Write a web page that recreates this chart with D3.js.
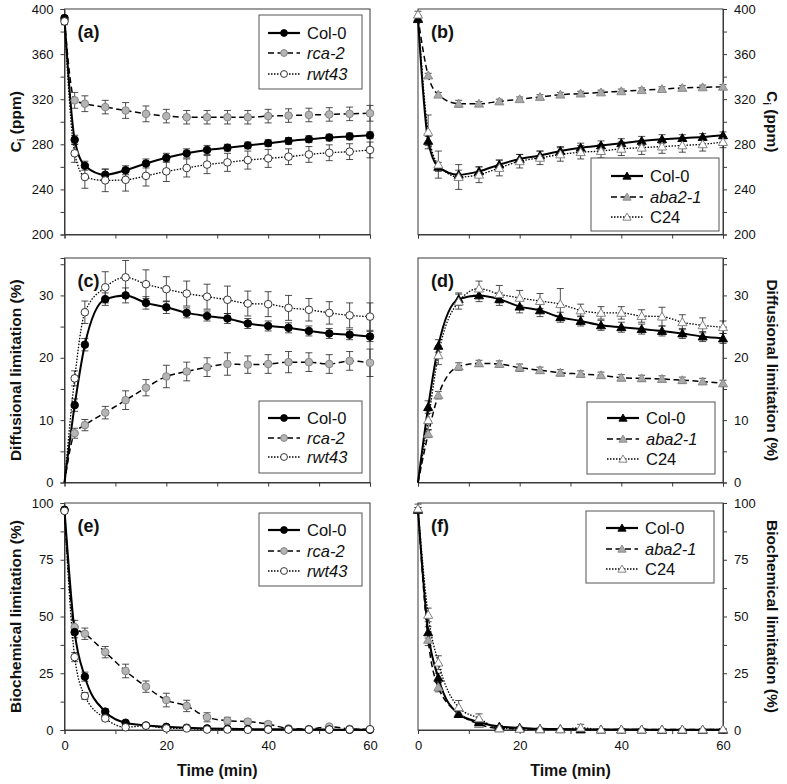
<!DOCTYPE html>
<html><head><meta charset="utf-8">
<script src="https://cdn.jsdelivr.net/npm/d3@7"></script>
<style>body{margin:0;background:#fff}svg{display:block}text{font-family:"Liberation Sans",Arial,Helvetica,sans-serif}</style>
</head><body><svg id="chart" width="787" height="784"></svg>
<script>
// ---------- data ----------
const times = [0,2,4,8,12,16,20,24,28,32,36,40,44,48,52,56,60];
const timeTickLabels = [0,20,40,60];
const ciTickLabels = [200,240,280,320,360,400];
const diffTickLabels = [0,10,20,30];
const bioTickLabels = [0,25,50,75,100];

// (a) Ci, Col-0 / rca-2 / rwt43
const a_col0 = [392,284,261,253,257,263,268,272,275,277,279,281,283,284.5,286,287,288];
const a_col0_err = [2,4,4,5,4,4,4,4,4,3,3,3,3,3,3,3,3];
const a_rca2 = [390,319,316,313,310,307,305,304,304,304,304,305,305.5,306,306.5,307,307.5];
const a_rca2_err = [3,7,7,6,7,7,6,6,6,6,6,6,6,6,6,6,7];
const a_rwt43 = [389,272,251,248,248.5,252,256,259,262,264,266,267.5,269,271,272.5,273.5,275];
const a_rwt43_err = [3,8,10,10,10,9,9,8,8,8,8,8,7,7,7,7,7];
// (b) Ci, Col-0 / aba2-1 / C24
const b_col0 = [391,283,260,253,256,262,267,270,274,277,279,281,283,284.5,285.5,286.5,288];
const b_col0_err = [2,4,4,4,4,4,4,4,4,4,4,4,4,4,3,3,3];
const b_aba = [392,341,324,316,316,318,320,322,324,325,326,327,328,329,330,330.5,331];
const b_aba_err = [2,2,2,3,2,2,2,2,2,2,2,2,2,2,2,2,2];
const b_c24 = [395,291,262,251,253,259,265,268,271,273,274,276,277,278,279,280,282];
const b_c24_err = [3,15,12,11,7,7,6,6,6,6,6,6,6,6,6,6,5];
// (c) diffusional limitation
const c_col0 = [0,12.4,22.1,29.4,30,28.8,28.1,27.2,26.7,26.3,25.5,25.1,24.8,24.3,23.9,23.7,23.4];
const c_col0_err = [0,1,1,1,1.2,1,1,0.8,0.8,0.8,0.8,0.8,0.8,0.8,0.8,0.8,0.8];
const c_rca2 = [0,7.9,9.2,11.2,13.2,15.2,17.0,17.8,18.5,19.0,18.9,19.0,19.3,19.3,19.0,19.5,19.2];
const c_rca2_err = [0,0.8,0.9,1,1.5,1.3,1.8,1.5,1.5,1.8,1.4,1.5,1.7,1.5,1.5,1.5,2.2];
const c_rwt43 = [0,16.7,27.3,31.3,32.9,31.8,31.0,30.3,29.8,29.3,28.7,28.6,28.0,27.7,27.2,26.8,26.6];
const c_rwt43_err = [0,1.2,1.8,2.5,2.7,2.3,2,2,2,2.2,2,2,2,1.8,1.8,2,2.2];
// (d) diffusional limitation
const d_col0 = [0,12.1,21.9,29.4,30,29.4,28.2,27.6,26.5,25.9,25.2,24.9,24.6,24.3,23.9,23.4,23.1];
const d_col0_err = [0,1,1,1,1,1,1,1,0.8,0.8,0.8,0.8,0.8,0.8,0.8,0.8,0.8];
const d_aba = [0,7.8,14.0,18.6,19.1,19.0,18.4,18.0,17.6,17.4,17.2,16.8,16.7,16.6,16.4,16.2,15.9];
const d_aba_err = [0,0.6,0.6,0.6,0.5,0.5,0.6,0.5,0.5,0.5,0.5,0.5,0.5,0.5,0.5,0.5,0.5];
const d_c24 = [0,10.0,20.4,29.0,31.1,30.2,29.6,29.1,28.6,27.6,27.2,27.2,26.7,26.6,25.7,25.2,24.9];
const d_c24_err = [0,1.5,1.5,1.2,1.2,1.4,1.2,1.2,2.5,1,1,1,1,1.5,1.2,1.2,1];
// (e) biochemical limitation
const e_col0 = [97,43.1,23.5,8.1,3.2,2,1.4,1,0.7,0.5,0.4,0.3,0.3,0.2,0.2,0.1,0.1];
const e_col0_err = [1,2.5,2,1.2,0.8,0.5,0.5,0.4,0.4,0.3,0.3,0.3,0.3,0.3,0.3,0.3,0.3];
const e_rca2 = [97,45.3,42.4,34.3,26,19.1,13.2,10.6,5.6,4.1,3.7,2.6,0.7,0.4,1.5,0.5,0.3];
const e_rca2_err = [1,3,2.5,2.5,3,2.5,3,2.5,2,1.5,1,1,0.7,0.5,0.5,0.5,0.5];
const e_rwt43 = [96.5,32.1,15,5.1,1.2,1.9,0.7,0.7,0.2,0.2,0.1,0.2,0.2,0.2,0.2,0.2,0.3];
const e_rwt43_err = [1,2,1.5,1,0.5,0.5,0.4,0.4,0.3,0.3,0.3,0.3,0.3,0.3,0.3,0.3,0.3];
// (f) biochemical limitation
const f_col0 = [97,43,23,7,3.5,1.5,1,0.5,0.4,0.3,0.2,0.2,0.2,0.1,0.1,0.1,0.1];
const f_col0_err = [1,2.5,2,1.5,1,0.5,0.4,0.3,0.3,0.3,0.3,0.3,0.3,0.3,0.3,0.3,0.3];
const f_aba = [97,39.7,18.8,7.4,2.6,0.7,0.5,0.3,0.3,0.2,0.2,0.2,0.2,0.2,0.2,0.2,0.2];
const f_aba_err = [1,2.5,2,1.5,1,0.5,0.4,0.3,0.3,0.3,0.3,0.3,0.3,0.3,0.3,0.3,0.3];
const f_c24 = [97.5,50.7,29.7,10,5.1,0.7,0.5,0.3,0.3,1,0.2,0.2,0.2,0.2,0.2,0.2,0.4];
const f_c24_err = [2,3,3,3,2,1,0.5,0.4,0.4,1.5,0.3,0.3,0.3,0.3,0.3,0.3,0.3];

// ---------- styles / layout ----------
const styles = {
  col0c: {shape:'circle', fill:'#000', stroke:'#000', dash:null, lw:2},
  rca2:  {shape:'circle', fill:'#b5b5b5', stroke:'#7d7d7d', dash:'6,3.5', lw:1.5},
  rwt43: {shape:'circle', fill:'#fff', stroke:'#222', dash:'1.5,1.5', lw:1.3},
  col0t: {shape:'triangle', fill:'#000', stroke:'#000', dash:null, lw:2},
  aba:   {shape:'triangle', fill:'#a9a9a9', stroke:'#858585', dash:'6,3.5', lw:1.5},
  c24:   {shape:'triangle', fill:'#fff', stroke:'#777', dash:'1.5,1.5', lw:1.3}
};
const cols = [[64.5,370],[418,723]];
const rows = [
  {y0:234.5, y1:9,   dom:[200,400], minor:20,   labels:ciTickLabels},
  {y0:482.5, y1:258, dom:[0,36],    minor:5,    labels:diffTickLabels},
  {y0:730,   y1:503, dom:[0,100],   minor:12.5, labels:bioTickLabels}
];
const rowTitles = ['Ci', 'Diffusional limitation (%)', 'Biochemical limitation (%)'];
const leftNames = ['Col-0','rca-2','rwt43'];
const rightNames = ['Col-0','aba2-1','C24'];

const panels = [
  {lab:'(a)', col:0, row:0, names:leftNames, st:['col0c','rca2','rwt43'], vals:[a_col0,a_rca2,a_rwt43], errs:[a_col0_err,a_rca2_err,a_rwt43_err], leg:{x:259,y:15,w:103,h:74,rows:[33,53,74]}},
  {lab:'(b)', col:1, row:0, names:rightNames, st:['col0t','aba','c24'], vals:[b_col0,b_aba,b_c24], errs:[b_col0_err,b_aba_err,b_c24_err], leg:{x:591,y:158,w:128,h:73,rows:[176,197,217]}},
  {lab:'(c)', col:0, row:1, names:leftNames, st:['col0c','rca2','rwt43'], vals:[c_col0,c_rca2,c_rwt43], errs:[c_col0_err,c_rca2_err,c_rwt43_err], leg:{x:259,y:401,w:103,h:72,rows:[418,438,457]}},
  {lab:'(d)', col:1, row:1, names:rightNames, st:['col0t','aba','c24'], vals:[d_col0,d_aba,d_c24], errs:[d_col0_err,d_aba_err,d_c24_err], leg:{x:587,y:402,w:128,h:72,rows:[418,439,459]}},
  {lab:'(e)', col:0, row:2, names:leftNames, st:['col0c','rca2','rwt43'], vals:[e_col0,e_rca2,e_rwt43], errs:[e_col0_err,e_rca2_err,e_rwt43_err], leg:{x:259,y:513,w:103,h:73,rows:[530,551,571]}},
  {lab:'(f)', col:1, row:2, names:rightNames, st:['col0t','aba','c24'], vals:[f_col0,f_aba,f_c24], errs:[f_col0_err,f_aba_err,f_c24_err], leg:{x:586,y:511,w:128,h:72,rows:[528,549,569]}}
];

const svg = d3.select('#chart');
const FONT = '"Liberation Sans",Arial,Helvetica,sans-serif';

function marker(g, st, x, y, scale) {
  const s = styles[st];
  const k = scale || 1;
  if (s.shape === 'circle') {
    g.append('circle').attr('cx', x).attr('cy', y).attr('r', 3.8 * k)
      .attr('fill', s.fill).attr('stroke', s.stroke).attr('stroke-width', 0.9);
  } else {
    g.append('path').attr('d', d3.symbol(d3.symbolTriangle, 36 * k * k)())
      .attr('transform', `translate(${x},${y + 0.8})`)
      .attr('fill', s.fill).attr('stroke', s.stroke).attr('stroke-width', 0.9);
  }
}

panels.forEach(p => {
  const [xa, xb] = cols[p.col];
  const R = rows[p.row];
  const x = d3.scaleLinear().domain([0,60]).range([xa,xb]);
  const y = d3.scaleLinear().domain(R.dom).range([R.y0,R.y1]);
  const g = svg.append('g');

  // frame
  g.append('rect').attr('x', xa).attr('y', R.y1).attr('width', xb - xa).attr('height', R.y0 - R.y1)
    .attr('fill', 'none').attr('stroke', '#3a3a3a').attr('stroke-width', 1);

  // y axis
  const yTicks = d3.range(R.dom[0], R.dom[1] + 0.001, R.minor);
  const yAxis = (p.col === 0 ? d3.axisLeft(y) : d3.axisRight(y))
    .tickValues(yTicks).tickSize(4).tickPadding(7)
    .tickFormat(d => R.labels.includes(d) ? d : '');
  const ya = g.append('g').attr('transform', `translate(${p.col === 0 ? xa : xb},0)`).call(yAxis);
  ya.select('.domain').attr('stroke', '#3a3a3a');
  ya.selectAll('.tick line').attr('stroke', '#3a3a3a');
  ya.selectAll('text').attr('font-size', 13).attr('font-family', FONT).attr('fill', '#111');

  // x axis
  const xAxis = d3.axisBottom(x).tickValues(d3.range(0, 61, 10)).tickSize(4).tickPadding(7)
    .tickFormat(d => (p.row === 2 && timeTickLabels.includes(d)) ? d : '');
  const xg = g.append('g').attr('transform', `translate(0,${R.y0})`).call(xAxis);
  xg.select('.domain').attr('stroke', '#3a3a3a');
  xg.selectAll('.tick line').attr('stroke', '#3a3a3a');
  xg.selectAll('text').attr('font-size', 13).attr('font-family', FONT).attr('fill', '#111');

  // series
  const allPts = p.vals.map((vals, si) => times.map((t, i) => ({t, v: vals[i], e: p.errs[si][i]})));
  allPts.forEach(pts => {
    const eg = g.append('g').attr('stroke', '#222').attr('stroke-width', 0.8);
    pts.forEach(d => {
      if (d.e <= 0) return;
      const X = x(d.t), Y1 = y(Math.min(d.v + d.e, R.dom[1])), Y2 = y(Math.max(d.v - d.e, R.dom[0]));
      eg.append('line').attr('x1', X).attr('x2', X).attr('y1', Y1).attr('y2', Y2);
      eg.append('line').attr('x1', X - 3.5).attr('x2', X + 3.5).attr('y1', y(d.v + d.e)).attr('y2', y(d.v + d.e));
      if (d.v - d.e > R.dom[0]) eg.append('line').attr('x1', X - 3.5).attr('x2', X + 3.5).attr('y1', Y2).attr('y2', Y2);
    });
  });
  allPts.forEach((pts, si) => {
    const s = styles[p.st[si]];
    const line = d3.line().x(d => x(d.t)).y(d => y(d.v)).curve(d3.curveMonotoneX);
    g.append('path').datum(pts).attr('d', line).attr('fill', 'none')
      .attr('stroke', '#000').attr('stroke-width', s.lw)
      .attr('stroke-dasharray', s.dash).attr('stroke-linejoin', 'round');
  });
  [1, 0, 2].forEach(si => {
    allPts[si].forEach(d => {
      if (d.t === 0 && d.v === 0) return;
      marker(g, p.st[si], x(d.t), y(d.v));
    });
  });

  // panel label
  g.append('text').attr('x', xa + 13).attr('y', R.y1 + 29).text(p.lab)
    .attr('font-size', 18).attr('font-weight', 'bold').attr('font-family', FONT).attr('fill', '#111');

  // legend
  const L = p.leg;
  const lg = g.append('g');
  lg.append('rect').attr('x', L.x).attr('y', L.y).attr('width', L.w).attr('height', L.h)
    .attr('fill', '#fff').attr('stroke', '#555').attr('stroke-width', 1);
  const lx0 = L.x + (p.col === 0 ? 9 : 20), lx1 = lx0 + 32;
  p.names.forEach((nm, i) => {
    const s = styles[p.st[i]];
    const yy = L.rows[i];
    lg.append('line').attr('x1', lx0).attr('x2', lx1).attr('y1', yy).attr('y2', yy)
      .attr('stroke', '#000').attr('stroke-width', s.lw + 0.2).attr('stroke-dasharray', s.dash);
    marker(lg, p.st[i], (lx0 + lx1) / 2, yy, 0.9);
    lg.append('text').attr('x', lx1 + 7).attr('y', yy + 6).text(nm)
      .attr('font-size', 16.5).attr('font-family', FONT).attr('fill', '#111')
      .attr('font-style', (nm === 'Col-0' || nm === 'C24') ? 'normal' : 'italic');
  });

  // y title
  const yc = (R.y0 + R.y1) / 2;
  const tx = p.col === 0 ? 20.5 : 767;
  const tt = g.append('text').attr('transform', `translate(${tx},${yc}) rotate(${p.col === 0 ? -90 : 90})`)
    .attr('text-anchor', 'middle').attr('font-size', 15.5).attr('font-weight', 'bold')
    .attr('font-family', FONT).attr('fill', '#111');
  if (p.row === 0) {
    tt.append('tspan').text('C');
    tt.append('tspan').text('i').attr('font-size', 10).attr('dy', 4);
    tt.append('tspan').text(' (ppm)').attr('dy', -4);
  } else {
    tt.text(rowTitles[p.row]);
  }

  if (p.row === 2) {
    g.append('text').attr('x', (xa + xb) / 2).attr('y', 776).attr('text-anchor', 'middle')
      .text('Time (min)').attr('font-size', 16).attr('font-weight', 'bold')
      .attr('font-family', FONT).attr('fill', '#111');
  }
});
</script></body></html>
